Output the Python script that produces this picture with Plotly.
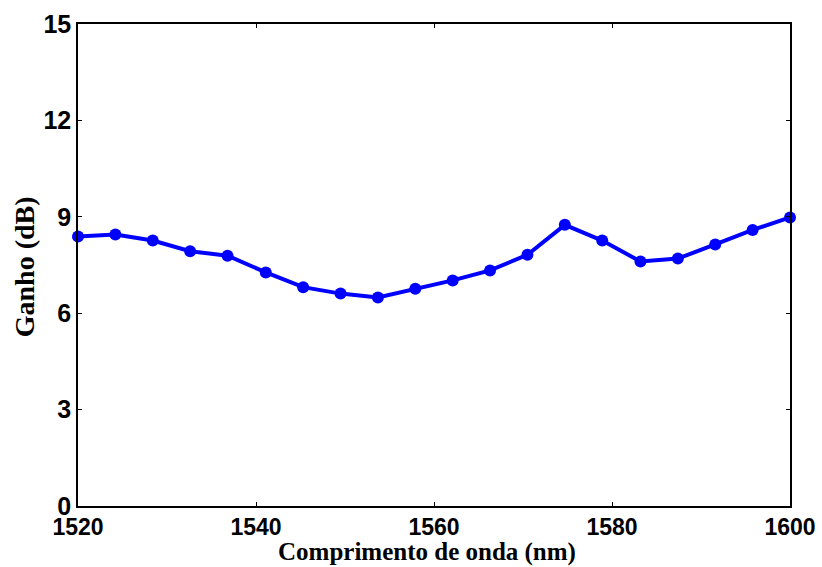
import plotly.graph_objects as go

# Wavelength (nm) and measured gain (dB)
wavelength_nm = [1520.0, 1524.2, 1528.4, 1532.6, 1536.8, 1541.1, 1545.3, 1549.5,
                 1553.7, 1557.9, 1562.1, 1566.3, 1570.5, 1574.7, 1578.9, 1583.2,
                 1587.4, 1591.6, 1595.8, 1600.0]
gain_db = [8.39, 8.45, 8.26, 7.93, 7.79, 7.27, 6.81, 6.61, 6.49, 6.76,
           7.02, 7.33, 7.82, 8.75, 8.26, 7.61, 7.70, 8.14, 8.59, 8.98]

x_ticks = [1520, 1540, 1560, 1580, 1600]
y_ticks = [0, 3, 6, 9, 12, 15]

fig = go.Figure(
    go.Scatter(
        x=wavelength_nm,
        y=gain_db,
        mode="lines+markers",
        line=dict(color="#0000FF", width=4),
        marker=dict(color="#0000FF", size=12),
        showlegend=False,
        cliponaxis=False,
    )
)

sans = "Liberation Sans, Arial, sans-serif"
serif = "Liberation Serif, Times New Roman, serif"

axis_style = dict(
    ticks="inside",
    ticklen=4,
    tickcolor="black",
    showline=True,
    linecolor="black",
    linewidth=1.5,
    mirror="ticks",
    showgrid=False,
    zeroline=False,
    automargin=False,
)

fig.update_xaxes(
    range=[1520, 1600],
    tickvals=x_ticks,
    ticktext=[f"<b>{v}</b>" for v in x_ticks],
    tickfont=dict(family=sans, size=23, color="black"),
    ticklabelstandoff=0,
    **axis_style,
)
fig.update_yaxes(
    range=[0, 15],
    tickvals=y_ticks,
    ticktext=[f"<b>{v}</b>" for v in y_ticks],
    tickfont=dict(family=sans, size=25, color="black"),
    **axis_style,
)

# Axis titles placed as paper-anchored annotations
fig.add_annotation(
    text="<b>Comprimento de onda (nm)</b>",
    xref="paper", yref="paper", x=0.49, y=-0.0954,
    xanchor="center", yanchor="middle",
    showarrow=False, font=dict(family=serif, size=25, color="black"),
)
fig.add_annotation(
    text="<b>Ganho (dB)</b>",
    xref="paper", yref="paper", x=-0.074, y=0.496,
    xanchor="center", yanchor="middle", textangle=-90,
    showarrow=False, font=dict(family=serif, size=28, color="black"),
)

fig.update_layout(
    width=822,
    height=567,
    margin=dict(l=78, r=32, t=24, b=61),
    paper_bgcolor="white",
    plot_bgcolor="white",
)

fig.write_html("out.html")
